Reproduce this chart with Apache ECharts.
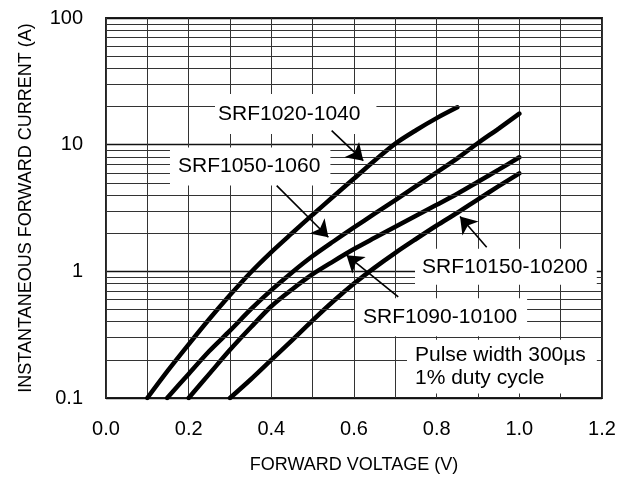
<!DOCTYPE html>
<html>
<head>
<meta charset="utf-8">
<script src="https://cdn.jsdelivr.net/npm/echarts@6/dist/echarts.min.js"></script>
<style>
html,body{margin:0;padding:0;background:#fff;}
#c{width:624px;height:477px;}
</style>
</head>
<body>
<div id="c"></div>
<script>
// ---- data ----
const xTickLabels = ['0.0','0.2','0.4','0.6','0.8','1.0','1.2'];
const yMinorLines = [0.2,0.3,0.4,0.5,0.6,0.7,0.8,0.9,2,3,4,5,6,7,8,9,20,30,40,50,60,70,80,90];
const curve1020 = [[0.10,0.1],[0.15,0.165],[0.20,0.265],[0.25,0.42],[0.30,0.65],[0.35,0.98],[0.40,1.42],[0.45,2.0],[0.50,2.8],[0.55,3.9],[0.60,5.4],[0.65,7.5],[0.70,10.2],[0.75,13.0],[0.80,16.2],[0.85,19.7]];
const curve1050 = [[0.148,0.1],[0.20,0.155],[0.25,0.235],[0.30,0.34],[0.35,0.5],[0.40,0.71],[0.45,0.98],[0.50,1.32],[0.55,1.72],[0.60,2.22],[0.65,2.85],[0.70,3.65],[0.75,4.7],[0.80,6.05],[0.85,7.8],[0.90,10.3],[0.95,13.4],[1.00,17.6]];
const curve1090 = [[0.20,0.1],[0.25,0.155],[0.30,0.24],[0.35,0.36],[0.40,0.53],[0.45,0.72],[0.50,0.95],[0.55,1.2],[0.60,1.5],[0.65,1.84],[0.70,2.25],[0.75,2.75],[0.80,3.35],[0.85,4.1],[0.90,5.1],[0.95,6.35],[1.00,7.95]];
const curve10150 = [[0.30,0.1],[0.35,0.14],[0.40,0.2],[0.45,0.285],[0.50,0.41],[0.55,0.58],[0.60,0.8],[0.65,1.07],[0.70,1.4],[0.75,1.8],[0.80,2.3],[0.85,2.9],[0.90,3.7],[0.95,4.7],[1.00,5.94]];
const labelTexts = ['SRF1020-1040','SRF1050-1060','SRF10150-10200','SRF1090-10100','Pulse width 300µs\n1% duty cycle'];
const labelAnchors = [[0.2637,17.5],[0.1548,6.71],[0.7476,1.085],[0.6024,0.434],[0.7282,0.177]];
const arrowTails = [[0.546,12.9],[0.413,4.75],[0.921,1.55],[0.707,0.628]];
const arrowTips  = [[0.6225,7.48],[0.538,1.86],[0.8565,2.71],[0.582,1.34]];

const FONT = '"Liberation Sans", Arial, sans-serif';
const chart = echarts.init(document.getElementById('c'), null, {renderer:'canvas'});

const curveSeries = [curve1020, curve1050, curve1090, curve10150].map((d,i)=>({
  type:'line', name:'c'+i, data:d, smooth:0.3, showSymbol:false, silent:true, z:3,
  lineStyle:{color:'#000', width:4.5, cap:'round'}
}));

const labelPads = [[8,16,8,3],[7,10,7,8],[6,9,6,7],[7,10,7,8],[2,11,5,8]];

const labelSeries = {
  type:'scatter', symbolSize:0, silent:true, z:10,
  itemStyle:{opacity:1},
  data: labelAnchors.map((p,i)=>({
    value:p,
    label:{
      show:true, position:'inside', formatter:labelTexts[i], opacity:1,
      align:'left', verticalAlign:'middle',
      fontFamily:FONT, fontSize:21, color:'#000', backgroundColor:'#fff',
      lineHeight: i===4 ? 23.3 : 24,
      padding:labelPads[i]
    }
  }))
};

const arrowSeries = {
  type:'lines', coordinateSystem:'cartesian2d', silent:true, z:11,
  symbol:['none','arrow'], symbolSize:[11,16],
  lineStyle:{color:'#000', width:1.6, opacity:1},
  data: arrowTails.map((t,i)=>({coords:[t, arrowTips[i]]}))
};

const minorSeries = {
  type:'line', data:[], silent:true, z:1,
  markLine:{
    silent:true, symbol:'none', animation:false,
    label:{show:false},
    lineStyle:{color:'#333', width:1, type:'solid'},
    data: yMinorLines.map(v=>({yAxis:v}))
  }
};

chart.setOption({
  animation:false,
  backgroundColor:'#fff',
  grid:{left:106, right:22, top:18, bottom:79, show:true, borderColor:'#222', borderWidth:2, backgroundColor:'#fff', containLabel:false, outerBoundsMode:'none'},
  xAxis:{
    type:'value', min:0, max:1.2, interval:0.1,
    name:'FORWARD VOLTAGE (V)', nameLocation:'middle', nameGap:58,
    nameTextStyle:{fontFamily:FONT, fontSize:18, color:'#000'},
    axisLine:{show:false}, axisTick:{show:false},
    axisLabel:{
      fontFamily:FONT, fontSize:20, color:'#000', margin:21, showMinLabel:true, showMaxLabel:true,
      formatter:(v)=>{const k=Math.round(v*10); return k%2===0 ? xTickLabels[k/2] : '';}
    },
    splitLine:{show:true, lineStyle:{color:'#333', width:1}}
  },
  yAxis:{
    type:'log', logBase:10, min:0.1, max:100,
    name:'INSTANTANEOUS FORWARD CURRENT (A)', nameLocation:'middle', nameGap:71,
    nameTextStyle:{fontFamily:FONT, fontSize:18, color:'#000'},
    axisLine:{show:false}, axisTick:{show:false},
    axisLabel:{fontFamily:FONT, fontSize:20, color:'#000', margin:23,
      formatter:(v)=>{ return v<1 ? v.toFixed(1) : String(Math.round(v)); }},
    splitLine:{show:true, lineStyle:{color:'#111', width:1.3}}
  },
  series:[minorSeries, ...curveSeries, labelSeries, arrowSeries]
});
</script>
</body>
</html>
